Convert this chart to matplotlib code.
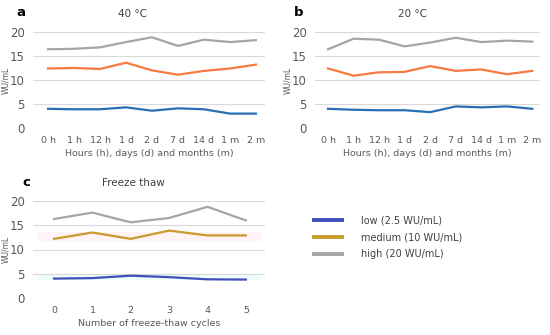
import matplotlib as mpl
mpl.use('Agg')
import matplotlib.pyplot as plt

# panel a / b categories
time_labels = ['0 h', '1 h', '12 h', '1 d', '2 d', '7 d', '14 d', '1 m', '2 m']
cycles = [0, 1, 2, 3, 4, 5]

# 40 °C
a_high = [16.4, 16.5, 16.8, 17.9, 18.9, 17.1, 18.4, 17.9, 18.3]
a_med = [12.4, 12.5, 12.3, 13.6, 12.0, 11.1, 11.9, 12.4, 13.2]
a_low = [4.0, 3.9, 3.9, 4.3, 3.6, 4.1, 3.9, 3.0, 3.0]

# 20 °C
b_high = [16.4, 18.6, 18.4, 17.0, 17.8, 18.8, 17.9, 18.2, 18.0]
b_med = [12.4, 10.9, 11.6, 11.7, 12.9, 11.9, 12.2, 11.2, 11.9]
b_low = [4.0, 3.8, 3.7, 3.7, 3.3, 4.5, 4.3, 4.5, 4.0]

# freeze thaw
c_high = [16.3, 17.6, 15.6, 16.5, 18.8, 16.0]
c_med = [12.2, 13.5, 12.2, 13.9, 12.9, 12.9]
c_low = [4.0, 4.1, 4.6, 4.3, 3.85, 3.8]

legend_labels = ['low (2.5 WU/mL)', 'medium (10 WU/mL)', 'high (20 WU/mL)']

GRAY = '#A5A5A5'
ORANGE = '#F97A40'
BLUE = '#2870B4'
C_BLUE = '#3E4FBE'
C_GOLD = '#C99A2C'
TXT = '#595959'

fig = plt.figure(figsize=(5.5, 3.35), dpi=100)
W, H = 550.0, 335.0


def make_ax(x0, x1, ytop, ybot):
    ax = fig.add_axes([x0 / W, 1 - ybot / H, (x1 - x0) / W, (ybot - ytop) / H])
    ax.set_ylim(0, 20)
    ax.set_yticks([0, 5, 10, 15, 20])
    ax.grid(axis='y', color='#D9D9D9', linewidth=0.8)
    ax.set_axisbelow(True)
    for s in ax.spines.values():
        s.set_visible(False)
    ax.tick_params(axis='both', length=0, colors=TXT)
    ax.tick_params(axis='y', labelsize=8.5, pad=6)
    ax.tick_params(axis='x', labelsize=6.8, pad=6)
    ax.set_ylabel('WU/mL', fontsize=5.5, color=TXT, labelpad=0)
    return ax


lw = 1.6

ax1 = make_ax(33, 265, 32, 128)
x = range(len(time_labels))
ax1.plot(x, a_low, color=BLUE, lw=lw)
ax1.plot(x, a_med, color=ORANGE, lw=lw)
ax1.plot(x, a_high, color=GRAY, lw=lw)
ax1.set_xlim(-0.58, 8.35)
ax1.set_xticks(list(x))
ax1.set_xticklabels(time_labels)
ax1.set_xlabel('Hours (h), days (d) and months (m)', fontsize=6.8, color=TXT, labelpad=3)
fig.text(133 / W, 1 - 14 / H, '40 °C', fontsize=7.5, color='#404040', ha='center', va='center')
fig.text(21 / W, 1 - 13 / H, 'a', fontsize=9.5, fontweight='bold', ha='center', va='center')

ax2 = make_ax(315, 540, 32, 128)
ax2.plot(x, b_low, color=BLUE, lw=lw)
ax2.plot(x, b_med, color=ORANGE, lw=lw)
ax2.plot(x, b_high, color=GRAY, lw=lw)
ax2.set_xlim(-0.51, 8.3)
ax2.set_xticks(list(x))
ax2.set_xticklabels(time_labels)
ax2.set_xlabel('Hours (h), days (d) and months (m)', fontsize=6.8, color=TXT, labelpad=3)
fig.text(413 / W, 1 - 14 / H, '20 °C', fontsize=7.5, color='#404040', ha='center', va='center')
fig.text(299 / W, 1 - 13 / H, 'b', fontsize=9.5, fontweight='bold', ha='center', va='center')

ax3 = make_ax(33, 265, 201, 298)
ax3.axhspan(12.0, 13.7, xmin=0.02, xmax=0.98, color='#FFF3F7', zorder=0)
ax3.axhspan(4.0, 5.0, xmin=0.02, xmax=0.98, color='#F1FCFC', zorder=0)
l1, = ax3.plot(cycles, c_low, color=C_BLUE, lw=lw)
l2, = ax3.plot(cycles, c_med, color=C_GOLD, lw=lw)
l3, = ax3.plot(cycles, c_high, color=GRAY, lw=lw)
ax3.set_xlim(-0.55, 5.5)
ax3.set_xticks(cycles)
ax3.set_xlabel('Number of freeze-thaw cycles', fontsize=6.8, color=TXT, labelpad=3)
fig.text(133 / W, 1 - 183 / H, 'Freeze thaw', fontsize=7.5, color='#404040', ha='center', va='center')
fig.text(26 / W, 1 - 183 / H, 'c', fontsize=9.5, fontweight='bold', ha='center', va='center')

leg = fig.legend([l1, l2, l3], legend_labels, loc='upper left',
                 bbox_to_anchor=(305 / W, 1 - 207 / H), frameon=False,
                 fontsize=7, handlelength=2.9, handletextpad=2.0, labelspacing=0.7)
for h in leg.legend_handles:
    h.set_linewidth(2.8)
for t in leg.get_texts():
    t.set_color('#404040')

fig.savefig('out.png', dpi=100)
